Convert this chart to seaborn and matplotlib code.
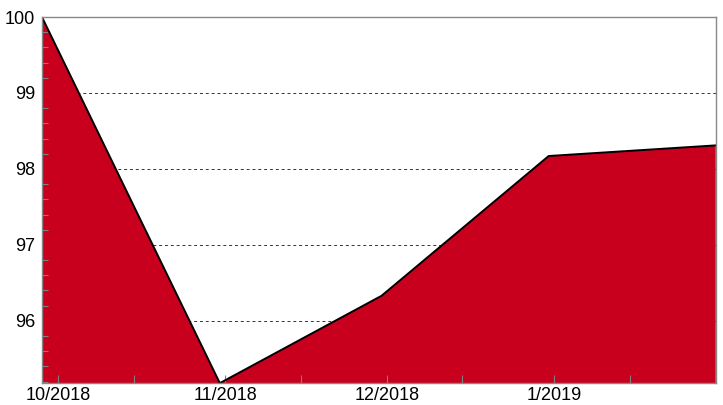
import pandas as pd
import matplotlib.pyplot as plt
import matplotlib.dates as mdates
import matplotlib.ticker as mticker
import seaborn as sns

# ── Data ─────────────────────────────────────────────────────────────────────
dates = ["2018-09-28", "2018-10-31", "2018-11-30", "2018-12-31", "2019-01-31"]
values = [100.0, 95.18, 96.33, 98.17, 98.31]
grid_levels = [96, 97, 98, 99]

df = pd.DataFrame({"date": pd.to_datetime(dates), "value": values})

# ── Style ────────────────────────────────────────────────────────────────────
sns.set_theme(style="white")
plt.rcParams["font.family"] = ["Liberation Sans", "DejaVu Sans"]
plt.rcParams["xtick.bottom"] = True
plt.rcParams["ytick.left"] = True

fig = plt.figure(figsize=(7.23, 4.05), dpi=100)
ax = fig.add_axes([0.058, 0.054, 0.932, 0.904])

# dashed guides sit behind the filled area
for lvl in grid_levels:
    ax.axhline(lvl, color="#333333", linestyle=(0, (3, 3)), linewidth=0.7, zorder=1)

ax.fill_between(df["date"], df["value"], 90, color="#C8001E", zorder=2, linewidth=0)
sns.lineplot(data=df, x="date", y="value", ax=ax, color="black", linewidth=1.4, zorder=3)

ax.set_xlim(df["date"].iloc[0], df["date"].iloc[-1])
ax.set_ylim(min(values), 100)
ax.set_axisbelow(False)

ax.xaxis.set_major_locator(mdates.MonthLocator())
ax.xaxis.set_minor_locator(mdates.MonthLocator(bymonthday=15))
ax.xaxis.set_major_formatter(mticker.FuncFormatter(
    lambda x, _: f"{mdates.num2date(x).month}/{mdates.num2date(x).year}"))
ax.yaxis.set_major_locator(mticker.MultipleLocator(1))
ax.yaxis.set_minor_locator(mticker.MultipleLocator(0.2))
ax.yaxis.set_major_formatter(mticker.FormatStrFormatter("%d"))

ax.grid(False)
ax.tick_params(axis="both", which="both", direction="in", colors="#808080",
               labelcolor="black", labelsize=13)
ax.tick_params(axis="x", which="both", length=6, width=0.8, pad=3)
ax.tick_params(axis="y", which="major", length=0, pad=5)
ax.tick_params(axis="y", which="minor", length=4, width=0.8)
ax.set_xlabel("")
ax.set_ylabel("")

for side in ["left", "right", "top", "bottom"]:
    ax.spines[side].set_visible(True)
    ax.spines[side].set_color("#888888")
    ax.spines[side].set_linewidth(1.0)
    ax.spines[side].set_zorder(4)

plt.savefig("out.png", dpi=100)
plt.close()
